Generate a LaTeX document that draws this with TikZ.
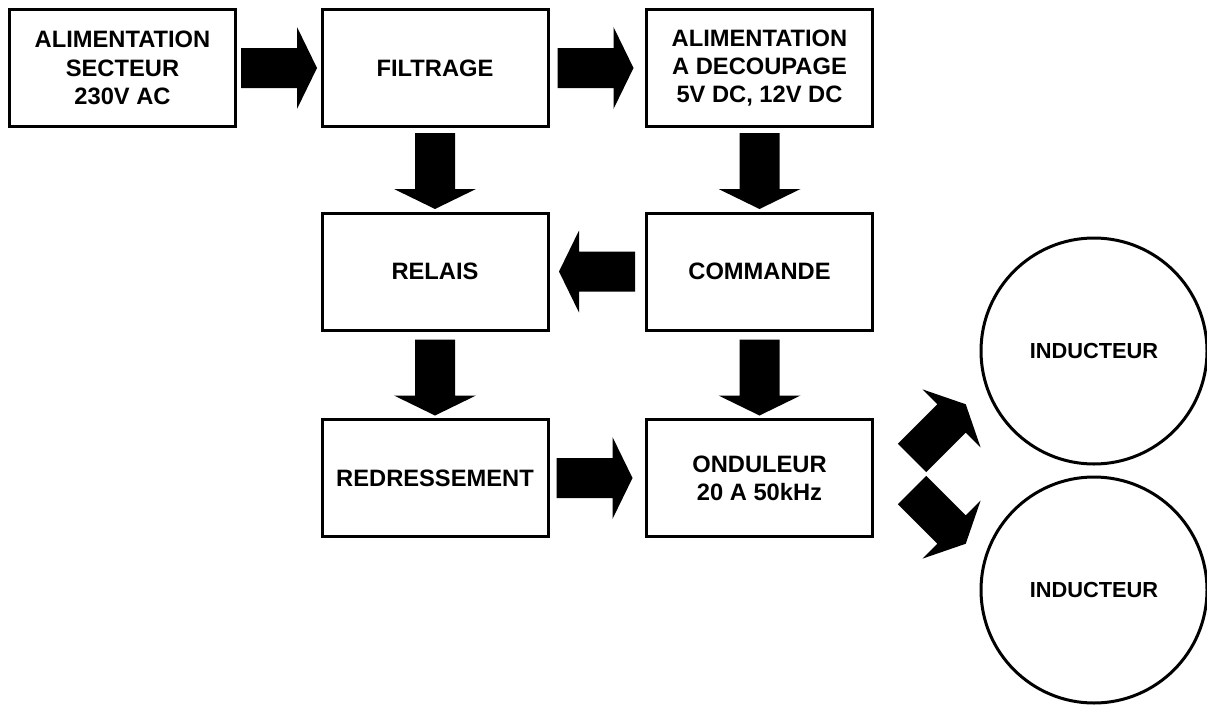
\documentclass[tikz,border=0pt]{standalone}
\usepackage{fontspec}
\setmainfont{Liberation Sans}
\usetikzlibrary{calc}

\begin{document}
\begin{tikzpicture}
        [
        x = 1pt, y = -1pt,
        every node/.style = {font = \bfseries\fontsize{23.7}{28.3}\selectfont, align = center},
        fleche/.pic = {\fill (0,-20) -- (56,-20) -- (56,-41) -- (76,0) -- (56,41) -- (56,20) -- (0,20) -- cycle;},
        ]
        \tikzstyle{bloc node}=[rectangle,draw,line width=3pt,minimum width=226pt,minimum height=117pt,inner sep=0]
        \tikzstyle{bobine node}=[circle,draw,line width=3pt,minimum size=226pt,inner sep=0,font=\bfseries\fontsize{21.8}{26}\selectfont]

        \useasboundingbox (0,0) rectangle (1207,704);

        % les blocs
        \node[bloc node] (alim) at (122.5,68) {ALIMENTATION\\SECTEUR\\230V AC};
        \node[bloc node] (filtrage) at (435,68) {FILTRAGE};
        \node[bloc node] (decoupage) at (759.5,68) {ALIMENTATION\\A DECOUPAGE\\5V DC, 12V DC};
        \node[bloc node] (relais) at (435,271.5) {RELAIS};
        \node[bloc node] (commande) at (759.5,271.5) {COMMANDE};
        \node[bloc node] (redressement) at (435,478) {REDRESSEMENT};
        \node[bloc node] (onduleur) at (759.5,478) {ONDULEUR\\20 A 50kHz};
        \node[bobine node] (inducteur1) at (1094,351) {INDUCTEUR};
        \node[bobine node] (inducteur2) at (1094,590) {INDUCTEUR};

        % les fleches
        \pic at ($(alim.east)+(4,0)$) {fleche};
        \pic at ($(filtrage.east)+(8,0)$) {fleche};
        \pic[rotate=-90] at ($(filtrage.south)+(0,5)$) {fleche};
        \pic[rotate=-90] at ($(decoupage.south)+(0,5)$) {fleche};
        \pic[rotate=180] at ($(commande.west)+(-10,0)$) {fleche};
        \pic[rotate=-90] at ($(relais.south)+(0,8)$) {fleche};
        \pic[rotate=-90] at ($(commande.south)+(0,8)$) {fleche};
        \pic at ($(redressement.east)+(7,0)$) {fleche};
        \pic[rotate=45] at ($(onduleur.east)+(38,-20)$) {fleche};
        \pic[rotate=-45] at ($(onduleur.east)+(38,12)$) {fleche};
    \end{tikzpicture}
\end{document}
